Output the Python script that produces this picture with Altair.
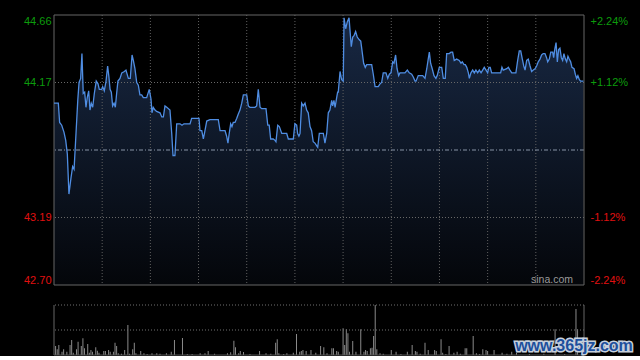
import altair as alt
import pandas as pd

# ---------------- data ----------------
PREV_CLOSE = 43.68
X_MAX = 330
PRICE_MIN, PRICE_MAX = 42.70, 44.66
price_ticks = [42.70, 43.19, 44.17, 44.66]
pct_labels = ["-2.24%", "-1.12%", "+1.12%", "+2.24%"]
grid_minutes = [30, 60, 90, 120, 150, 180, 210, 240, 270, 300]
grid_prices = [43.19, 44.17]
VOL_MAX = 200
vol_grid = [100, 200]

t_list = [
    0, 2.7, 3.5, 4.8, 6.2, 7.3, 8.3, 9.3, 10.6, 11.6,
    12.5, 13.7, 14.8, 15.6, 16.6, 17.4, 18.2, 19.1, 19.9, 20.7,
    21.6, 22.4, 23.2, 24.1, 25.1, 26.3, 27.4, 28.2, 29.7, 30.3,
    31.3, 32.4, 33.4, 34.2, 34.9, 35.7, 36.5, 37.4, 38.2, 39.0,
    39.8, 41.1, 42.2, 43.8, 44.8, 46.3, 47.5, 48.6, 49.4, 50.4,
    51.5, 52.5, 53.5, 54.6, 55.6, 57.7, 59.3, 60.4, 61.0, 61.8,
    62.9, 63.9, 66.0, 67.1, 68.1, 69.1, 70.2, 72.2, 73.3, 74.1,
    75.3, 76.4, 78.5, 79.7, 80.9, 84.7, 85.7, 88.8, 90.3, 90.9,
    92.0, 93.0, 94.0, 95.1, 97.1, 102.3, 103.4, 106.5, 107.5, 108.3,
    109.1, 110.0, 110.8, 111.6, 112.7, 113.8, 114.7, 115.8, 116.9, 117.9,
    118.9, 120.0, 121.0, 122.0, 125.1, 126.2, 127.2, 128.3, 129.3, 132.0,
    133.1, 134.0, 134.9, 136.5, 137.6, 138.2, 139.3, 140.3, 141.8, 144.9,
    145.9, 149.0, 150.0, 151.1, 151.7, 152.5, 153.2, 154.2, 155.2, 156.3,
    157.3, 158.3, 159.4, 160.4, 161.4, 162.5, 163.6, 164.2, 165.2, 167.7,
    168.7, 169.8, 170.8, 171.8, 172.9, 173.5, 174.3, 175.0, 176.0, 176.6,
    177.0, 178.1, 179.1, 180.1, 180.6, 181.6, 182.6, 183.7, 184.3, 185.1,
    186.0, 186.8, 187.8, 188.8, 190.1, 191.0, 191.8, 192.8, 193.8, 194.7,
    197.8, 198.8, 199.9, 201.9, 203.0, 204.0, 205.0, 206.7, 207.8, 208.8,
    209.8, 210.9, 211.7, 212.7, 213.6, 214.6, 215.4, 218.5, 220.0, 221.2,
    222.7, 223.7, 224.8, 225.4, 226.8, 229.6, 231.0, 232.1, 233.0, 233.7,
    234.5, 235.5, 236.6, 237.8, 238.6, 239.9, 241.4, 242.4, 243.6, 244.5,
    246.1, 247.2, 248.2, 249.2, 250.7, 252.3, 253.4, 254.2, 255.3, 256.1,
    257.0, 258.0, 258.6, 259.6, 260.7, 261.7, 262.7, 263.8, 264.8, 265.9,
    266.9, 267.9, 269.0, 270.0, 270.8, 271.6, 272.5, 278.1, 278.9, 279.7,
    281.9, 282.9, 283.9, 285.0, 287.6, 288.7, 289.7, 290.6, 291.6, 292.5,
    293.3, 294.3, 295.3, 296.4, 297.4, 298.4, 299.5, 300.5, 301.5, 302.6,
    303.6, 304.6, 305.7, 306.7, 307.4, 308.4, 309.3, 310.5, 311.1, 311.8,
    312.6, 313.4, 314.2, 315.0, 315.9, 316.7, 317.5, 318.4, 319.2, 320.0,
    320.8, 321.7, 322.5, 323.8, 324.6, 325.4, 326.2, 327.1, 327.9, 329.6,
]
p_list = [
    44.02, 44.02, 43.88, 43.86, 43.81, 43.75, 43.65, 43.36, 43.48, 43.56,
    43.54, 43.80, 44.04, 44.17, 44.20, 44.38, 44.09, 44.10, 43.99, 44.06,
    44.11, 43.97, 44.02, 43.99, 44.09, 44.18, 44.16, 44.12, 44.12, 44.14,
    44.11, 44.18, 44.29, 44.21, 44.12, 44.10, 44.00, 44.02, 43.99, 44.09,
    44.18, 44.20, 44.24, 44.25, 44.26, 44.20, 44.20, 44.37, 44.33, 44.27,
    44.17, 44.15, 44.08, 44.08, 44.06, 44.06, 44.12, 44.05, 43.95, 43.99,
    43.97, 43.96, 43.95, 43.92, 43.92, 44.00, 43.99, 43.97, 43.80, 43.64,
    43.64, 43.87, 43.87, 43.86, 43.87, 43.87, 43.91, 43.91, 43.91, 43.82,
    43.82, 43.76, 43.82, 43.89, 43.90, 43.90, 43.82, 43.82, 43.78, 43.73,
    43.80, 43.87, 43.85, 43.88, 43.88, 43.91, 43.94, 43.97, 44.02, 44.08,
    44.08, 44.08, 44.00, 43.99, 43.99, 44.00, 44.12, 43.99, 43.98, 43.98,
    43.86, 43.86, 43.76, 43.76, 43.75, 43.74, 43.86, 43.85, 43.80, 43.80,
    43.76, 43.76, 43.87, 43.86, 43.80, 43.78, 43.80, 44.02, 44.00, 44.02,
    43.97, 43.95, 43.85, 43.82, 43.74, 43.73, 43.71, 43.70, 43.80, 43.80,
    43.73, 43.80, 43.95, 43.97, 44.04, 44.00, 44.04, 43.99, 44.06, 44.10,
    44.10, 44.25, 44.19, 44.18, 44.64, 44.56, 44.61, 44.64, 44.55, 44.43,
    44.50, 44.51, 44.54, 44.50, 44.48, 44.47, 44.40, 44.31, 44.28, 44.30,
    44.30, 44.23, 44.14, 44.14, 44.16, 44.17, 44.24, 44.24, 44.20, 44.23,
    44.24, 44.32, 44.31, 44.37, 44.27, 44.22, 44.24, 44.24, 44.26, 44.24,
    44.23, 44.21, 44.18, 44.18, 44.22, 44.22, 44.20, 44.27, 44.34, 44.39,
    44.31, 44.27, 44.22, 44.20, 44.22, 44.28, 44.28, 44.20, 44.20, 44.38,
    44.38, 44.39, 44.39, 44.33, 44.34, 44.33, 44.31, 44.32, 44.30, 44.30,
    44.28, 44.24, 44.20, 44.24, 44.26, 44.24, 44.26, 44.24, 44.26, 44.24,
    44.26, 44.28, 44.26, 44.24, 44.28, 44.28, 44.24, 44.24, 44.28, 44.26,
    44.27, 44.28, 44.26, 44.24, 44.24, 44.33, 44.40, 44.40, 44.34, 44.29,
    44.26, 44.33, 44.34, 44.29, 44.25, 44.26, 44.27, 44.29, 44.32, 44.34,
    44.37, 44.38, 44.38, 44.35, 44.32, 44.34, 44.39, 44.39, 44.35, 44.41,
    44.46, 44.32, 44.41, 44.42, 44.35, 44.33, 44.38, 44.34, 44.32, 44.36,
    44.34, 44.32, 44.28, 44.27, 44.23, 44.20, 44.22, 44.19, 44.18, 44.18,
]

vol_t = [
    1, 2, 3, 5, 6, 8, 10, 11, 12, 14,
    15, 17, 18, 19, 21, 22, 23, 24, 26, 27,
    28, 31, 32, 34, 35, 37, 38, 39, 40, 44,
    46, 49, 50, 51, 54, 56, 61, 64, 70, 73,
    75, 80, 83, 91, 94, 96, 108, 110, 112, 113,
    115, 116, 118, 128, 132, 138, 139, 140, 145, 149,
    151, 153, 154, 155, 157, 160, 163,
    166, 168, 170, 173, 174, 176, 177, 180, 181, 182,
    183, 184, 186, 188, 191, 193, 194, 195, 197, 198,
    199, 200, 201, 203, 210, 213, 220, 223, 225, 226,
    231, 233, 237, 238, 241, 242, 246, 249, 251, 256,
    257, 261, 263, 267, 269, 270, 274, 279, 285, 288,
    312, 325, 326,
    42, 47, 58, 66, 86, 100, 122, 135, 143, 205,
    216, 228, 244, 253, 265, 282, 296, 305, 318,
]
vol_v = [
    36, 23, 40, 13, 23, 13, 40, 60, 9, 23,
    53, 36, 67, 27, 44, 9, 20, 13, 31, 17,
    9, 16, 16, 20, 13, 13, 49, 36, 7, 20,
    120, 23, 49, 7, 16, 7, 7, 7, 7, 13,
    60, 68, 4, 7, 7, 16, 7, 11, 57, 31,
    7, 16, 12, 16, 7, 49, 63, 7, 7, 9,
    84, 13, 16, 20, 16, 20, 9,
    36, 31, 7, 27, 27, 16, 13, 107, 40, 103,
    87, 13, 56, 13, 103, 13, 20, 16, 27, 29,
    76, 200, 23, 7, 20, 13, 13, 40, 16, 13,
    49, 20, 20, 16, 63, 9, 36, 9, 13, 27,
    27, 76, 7, 23, 20, 16, 20, 9, 13, 9,
    103, 184, 103,
    5, 5, 4, 5, 4, 5, 4, 5, 4, 5,
    4, 5, 4, 5, 4, 5, 4, 5, 4,
]

UP = "#0c9c0c"
DOWN = "#e01010"
FONT = "Liberation Sans"

line_df = pd.DataFrame({"t": t_list, "p": p_list})
vol_df = pd.DataFrame({"t": vol_t[: len(vol_v)], "v": vol_v[: len(vol_t)]})
vgrid_df = pd.DataFrame({"g": grid_minutes})
hgrid_df = pd.DataFrame({"h": grid_prices})
prev_df = pd.DataFrame({"c": [PREV_CLOSE]})
xframe_df = pd.DataFrame({"f": [0, X_MAX]})
yframe_df = pd.DataFrame({"f": [PRICE_MIN, PRICE_MAX]})
vgrid_vol_df = pd.DataFrame({"h": vol_grid})

xs = alt.Scale(domain=[0, X_MAX], nice=False, zero=False)
ys = alt.Scale(domain=[PRICE_MIN, PRICE_MAX], nice=False, zero=False)
vs = alt.Scale(domain=[0, VOL_MAX], nice=False, zero=True)

color_cond = {"condition": {"test": f"datum.value > {PREV_CLOSE}", "value": UP}, "value": DOWN}

left_axis = alt.Axis(
    values=price_ticks, format=".2f", orient="left", ticks=False, domain=False,
    grid=False, title=None, labelPadding=3, labelFlush=True, labelFont=FONT,
    labelFontSize=11, labelColor=color_cond, minExtent=54, maxExtent=54,
)
pct_expr = " : ".join(
    f"abs(datum.value - {v}) < 0.001 ? '{lab}'" for v, lab in zip(price_ticks, pct_labels)
) + " : ''"
right_axis = alt.Axis(
    values=price_ticks, orient="right", ticks=False, domain=False, grid=False,
    title=None, labelPadding=6, labelFlush=True, labelFont=FONT, labelFontSize=11,
    labelColor=color_cond, labelExpr=pct_expr, minExtent=56, maxExtent=56,
)

X = alt.X("t:Q", scale=xs, axis=None)

gradient = alt.Gradient(
    gradient="linear",
    stops=[alt.GradientStop(color="#04060a", offset=0),
           alt.GradientStop(color="#182843", offset=1)],
    x1=1, x2=1, y1=1, y2=0,
)

area = alt.Chart(line_df).mark_area(color=gradient).encode(
    x=X, y=alt.Y("p:Q", scale=ys, axis=left_axis), y2=alt.datum(PRICE_MIN)
)
vgrid = alt.Chart(vgrid_df).mark_rule(color="#606060", strokeDash=[1, 2], strokeWidth=1).encode(
    x=alt.X("g:Q", scale=xs, axis=None)
)
hgrid = alt.Chart(hgrid_df).mark_rule(color="#686868", strokeDash=[1, 2], strokeWidth=1).encode(
    y=alt.Y("h:Q", scale=ys, axis=None)
)
prev = alt.Chart(prev_df).mark_rule(color="#8794a6", strokeDash=[4, 2, 1, 2], strokeWidth=1).encode(
    y=alt.Y("c:Q", scale=ys, axis=None)
)
frame_x = alt.Chart(xframe_df).mark_rule(color="#666666", strokeWidth=1).encode(
    x=alt.X("f:Q", scale=xs, axis=None)
)
frame_y = alt.Chart(yframe_df).mark_rule(color="#666666", strokeWidth=1).encode(
    y=alt.Y("f:Q", scale=ys, axis=None)
)
line = alt.Chart(line_df).mark_line(color="#4f8de2", strokeWidth=1.3).encode(
    x=X, y=alt.Y("p:Q", scale=ys, axis=right_axis)
)
sina = alt.Chart(pd.DataFrame({"label": ["sina.com"]})).mark_text(
    align="right", baseline="alphabetic", color="#9a9a9a", font=FONT, fontSize=10.5
).encode(x=alt.value(519), y=alt.value(268), text="label:N")

top = alt.layer(area, vgrid, hgrid, prev, frame_x, frame_y, line, sina).resolve_axis(
    y="independent"
).properties(width=530, height=270)

# ---------------- volume panel ----------------
bars = alt.Chart(vol_df).mark_rule(color="#8a8a8a", strokeWidth=1).encode(
    x=alt.X("t:Q", scale=xs, axis=None),
    y=alt.Y("v:Q", scale=vs, axis=alt.Axis(labels=False, ticks=False, domain=False, grid=False,
                                           title=None, minExtent=54, maxExtent=54)),
    y2=alt.datum(0),
)
vol_grid_rules = alt.Chart(vgrid_vol_df).mark_rule(color="#707070", strokeDash=[1, 2], strokeWidth=1).encode(
    y=alt.Y("h:Q", scale=vs, axis=None)
)
vol_frame_x = alt.Chart(xframe_df).mark_rule(color="#666666", strokeWidth=1).encode(
    x=alt.X("f:Q", scale=xs, axis=None)
)
vol_base = alt.Chart(pd.DataFrame({"b": [0]})).mark_rule(color="#555555", strokeWidth=1).encode(
    y=alt.Y("b:Q", scale=vs, axis=None)
)
wm_df = pd.DataFrame({"label": ["www.365jz.com"]})
wm_glow = alt.Chart(wm_df).mark_text(
    align="center", baseline="middle", font=FONT, fontSize=16, fontWeight="bold",
    color="#c6d0dc", stroke="#c6d0dc", strokeWidth=3,
).encode(x=alt.value(520), y=alt.value(41), text="label:N")
wm = alt.Chart(wm_df).mark_text(
    align="center", baseline="middle", font=FONT, fontSize=16, fontWeight="bold",
    color="#1d4f9c",
).encode(x=alt.value(520), y=alt.value(41), text="label:N")

bottom = alt.layer(bars, vol_grid_rules, vol_frame_x, vol_base, wm_glow, wm).properties(
    width=530, height=50
)

chart = alt.vconcat(top, bottom, spacing=18).properties(
    padding={"left": 0, "right": 0, "top": 14, "bottom": 0}
).configure(background="#000000").configure_view(stroke=None)

chart.save("out.html", embed_options={"renderer": "svg", "actions": False})
